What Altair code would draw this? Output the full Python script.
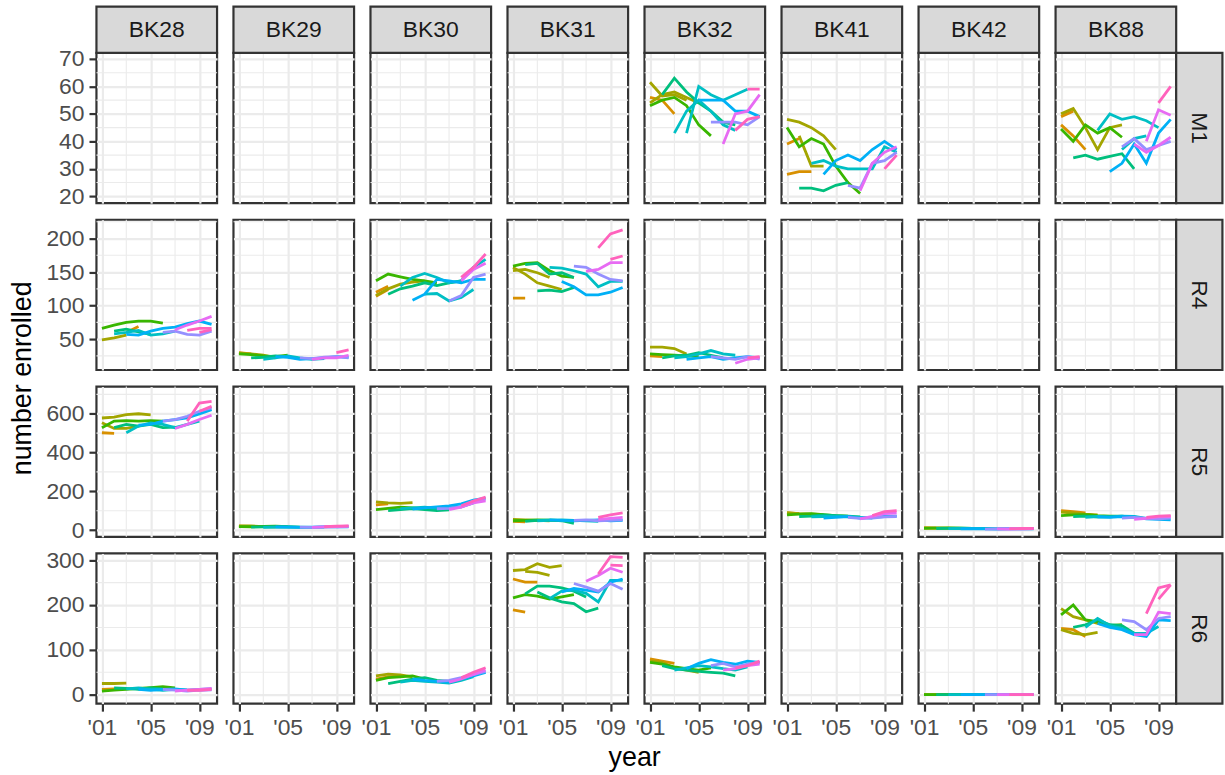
import altair as alt
import pandas as pd

# ---------------- data ----------------
SCHOOLS = ["BK28", "BK29", "BK30", "BK31", "BK32", "BK41", "BK42", "BK88"]
ROWS = ["M1", "R4", "R5", "R6"]
COHORTS = ["2000", "2001", "2002", "2003", "2004", "2005", "2006", "2007", "2008", "2009"]
COHORT_COLORS = ["#F8766D", "#D89000", "#A3A500", "#39B600", "#00BF7D",
                 "#00BFC4", "#00B0F6", "#9590FF", "#E76BF3", "#FF62BC"]

X_DOMAIN = [2000.55, 2010.45]
X_TICKS = [2001, 2005, 2009]
X_MINOR = [2003, 2007]
Y_DOMAIN = {"M1": [17.5, 72.2], "R4": [4, 228], "R5": [-35, 740], "R6": [-20, 315]}
Y_TICKS = {"M1": [20, 30, 40, 50, 60, 70], "R4": [50, 100, 150, 200],
           "R5": [0, 200, 400, 600], "R6": [0, 100, 200, 300]}
Y_MINOR = {"M1": [25, 35, 45, 55, 65], "R4": [25, 75, 125, 175, 225],
           "R5": [100, 300, 500, 700], "R6": [50, 150, 250]}

# each line: (cohort index, first year, values)
BK32_M1 = [
    (1, 2001, [56, 55, 50]),
    (2, 2001, [61.5, 56.5, 57, 55]),
    (2, 2001, [54, 57, 58, 56, 54]),
    (3, 2001, [53, 55, 56, 53, 46, 42]),
    (4, 2002, [57, 63, 58, 54, 51, 47, 46]),
    (5, 2003, [43, 51, 55, 51, 46, 44]),
    (5, 2004, [43, 60, 57, 55, 57, 59]),
    (6, 2005, [55, 55, 55, 51, 51, 49]),
    (7, 2006, [47, 47, 47, 46, 49]),
    (8, 2007, [39, 50, 51, 57]),
    (9, 2008, [44, 48, 49]),
    (9, 2009, [59, 59]),
]
BK41_M1 = [
    (1, 2001, [39, 41]),
    (1, 2001, [28, 29, 29]),
    (2, 2001, [48, 47, 45, 42, 37]),
    (2, 2002, [42, 31, 31]),
    (3, 2001, [45, 38, 41, 39, 31, 25, 21]),
    (4, 2002, [23, 23, 22, 24, 25]),
    (5, 2003, [32, 33, 31, 30, 30, 30, 38, 36]),
    (6, 2004, [28, 33, 35, 33, 37, 40, 37]),
    (7, 2006, [24, 23, 32, 33, 36]),
    (8, 2007, [22, 32, 36, 38]),
    (9, 2009, [30, 35]),
]
BK88_M1 = [
    (1, 2001, [49, 51]),
    (1, 2001, [46, 42, 37]),
    (2, 2001, [50, 52, 45, 37, 45, 46]),
    (3, 2001, [44.5, 40, 46, 43, 45, 41.5]),
    (4, 2002, [34, 35, 33.5, 34.5, 35.5, 30]),
    (5, 2004, [44, 50, 48, 49, 47.5, 45]),
    (5, 2006, [37, 41, 42]),
    (6, 2005, [29, 32, 39, 32, 43, 48]),
    (7, 2006, [38, 41, 37, 38.5, 40]),
    (8, 2007, [39, 36, 38.5, 41.5]),
    (8, 2008, [40, 51.5, 49.5]),
    (9, 2009, [54, 60]),
]
BK28_R4 = [
    (1, 2003, [60, 69]),
    (2, 2001, [49, 52, 56]),
    (3, 2001, [66, 71, 75, 77, 77, 74]),
    (4, 2002, [62, 65, 61, 57]),
    (5, 2002, [58, 60, 63, 56, 58, 62]),
    (6, 2003, [57, 56, 62, 66, 68, 73, 77, 72]),
    (7, 2006, [60, 62, 57, 56, 62]),
    (8, 2007, [64, 71, 77, 84]),
    (9, 2008, [63, 66, 66]),
    (9, 2009, [60, 64]),
]
BK29_R4 = [
    (1, 2001, [30, 28]),
    (2, 2001, [29, 28, 26, 22]),
    (3, 2001, [28, 27, 25, 24, 26]),
    (4, 2002, [22, 23, 25, 24, 21]),
    (5, 2003, [20, 22, 25, 22, 20, 21]),
    (6, 2004, [24, 23, 20, 21, 22, 24, 23]),
    (7, 2006, [22, 21, 23, 24, 22]),
    (8, 2007, [20, 22, 22, 26]),
    (9, 2009, [30, 34]),
]
BK30_R4 = [
    (1, 2001, [120, 129]),
    (1, 2001, [114, 124]),
    (2, 2001, [115, 125, 132, 135, 137]),
    (3, 2001, [137, 147, 143, 139, 137, 134]),
    (4, 2002, [117, 125, 129, 134, 130, 134, 137]),
    (5, 2003, [129, 142, 148, 142, 134, 137, 157, 169]),
    (5, 2005, [117, 118, 107, 112, 124]),
    (6, 2004, [108, 117, 139, 137, 134, 139, 139]),
    (7, 2007, [107, 115, 142, 147]),
    (8, 2008, [137, 154, 163]),
    (9, 2008, [142, 157, 177]),
]
BK31_R4 = [
    (1, 2001, [111, 111]),
    (2, 2001, [152, 154, 149, 142]),
    (2, 2001, [157, 147, 134, 129, 124]),
    (3, 2001, [159, 163, 164, 152, 144, 142]),
    (4, 2002, [161, 163, 147, 149, 142]),
    (4, 2003, [122, 123, 121, 127]),
    (5, 2004, [157, 156, 152, 147, 128, 136, 136]),
    (6, 2005, [136, 128, 116, 116, 120, 127]),
    (7, 2006, [159, 157, 147, 139, 137]),
    (8, 2007, [151, 154, 164, 164]),
    (9, 2008, [186, 207, 213]),
    (9, 2009, [169, 174]),
]
BK32_R4 = [
    (1, 2001, [25, 24]),
    (2, 2001, [38, 38, 36, 28]),
    (3, 2001, [28, 27, 26, 25, 24]),
    (4, 2002, [22, 25, 26, 30, 26, 22]),
    (5, 2003, [22, 24, 28, 33, 28, 26]),
    (6, 2004, [20, 22, 24, 20, 22, 24, 22]),
    (7, 2006, [24, 22, 20, 24, 20]),
    (8, 2008, [14, 20, 22]),
    (9, 2009, [22, 24]),
]
BK28_R5 = [
    (1, 2001, [502, 499]),
    (2, 2001, [553, 524, 524, 536]),
    (2, 2001, [578, 582, 596, 600, 594]),
    (3, 2001, [528, 562, 565, 562, 565, 562]),
    (4, 2002, [528, 545, 536, 545, 528, 531]),
    (5, 2003, [502, 536, 553, 545, 528, 545, 562]),
    (6, 2004, [541, 545, 562, 570, 579, 599, 621]),
    (7, 2006, [562, 570, 587, 613, 630]),
    (8, 2007, [524, 545, 570, 592]),
    (9, 2008, [562, 655, 664]),
    (9, 2009, [613, 638]),
]
BK29_R5 = [
    (1, 2001, [20, 19]),
    (2, 2001, [22, 21, 18, 16]),
    (3, 2001, [18, 17, 19, 20, 18]),
    (4, 2002, [15, 16, 18, 17, 15]),
    (5, 2003, [14, 15, 16, 15, 14, 15]),
    (6, 2004, [16, 15, 14, 15, 16, 17, 16]),
    (7, 2006, [15, 14, 16, 17, 18]),
    (8, 2007, [14, 16, 18, 20]),
    (9, 2008, [17, 20, 22]),
]
BK30_R5 = [
    (1, 2001, [130, 135]),
    (2, 2001, [145, 140, 138, 142]),
    (3, 2001, [105, 112, 118, 115, 110, 108]),
    (4, 2002, [100, 105, 110, 105, 100, 104]),
    (5, 2003, [110, 115, 118, 112, 115, 120, 140]),
    (6, 2004, [108, 115, 120, 125, 135, 155, 165]),
    (7, 2006, [110, 112, 120, 150, 160]),
    (8, 2007, [105, 118, 140, 150]),
    (9, 2008, [125, 150, 170]),
]
BK31_R5 = [
    (1, 2001, [45, 42]),
    (2, 2001, [55, 52, 50, 48]),
    (3, 2001, [48, 50, 52, 50, 49]),
    (4, 2002, [45, 50, 52, 48, 35]),
    (5, 2003, [48, 50, 52, 50, 48, 45]),
    (6, 2004, [52, 50, 48, 50, 52, 48, 50]),
    (7, 2006, [50, 52, 48, 50, 52]),
    (8, 2008, [55, 60, 65]),
    (9, 2008, [65, 78, 88]),
]
BK41_R5 = [
    (1, 2001, [88, 85]),
    (2, 2001, [90, 85, 82, 80]),
    (3, 2001, [78, 82, 85, 80, 75, 72]),
    (4, 2002, [70, 72, 78, 75, 72, 68]),
    (5, 2003, [68, 70, 72, 68, 65, 62]),
    (6, 2004, [62, 65, 70, 62, 65, 70, 72]),
    (7, 2006, [65, 60, 62, 68, 70]),
    (8, 2007, [58, 70, 85, 88]),
    (9, 2008, [75, 95, 100]),
]
BK42_R5 = [
    (1, 2001, [10, 10]),
    (2, 2001, [12, 11, 10, 9]),
    (3, 2001, [9, 10, 11, 10, 9]),
    (4, 2002, [8, 9, 10, 9, 8]),
    (5, 2003, [7, 8, 9, 8, 7, 7]),
    (6, 2004, [6, 7, 6, 5, 6, 7, 6]),
    (7, 2006, [5, 6, 7, 6, 7]),
    (8, 2007, [6, 5, 6, 8]),
    (9, 2008, [7, 8, 9]),
]
BK88_R5 = [
    (1, 2001, [100, 95, 88]),
    (2, 2001, [92, 88, 82, 78]),
    (3, 2001, [75, 78, 80, 75, 72, 70]),
    (4, 2002, [70, 72, 68, 70, 72, 65]),
    (5, 2003, [65, 70, 68, 72, 70, 60]),
    (6, 2004, [68, 65, 70, 68, 58, 55, 52]),
    (7, 2006, [62, 65, 60, 58, 62]),
    (8, 2007, [55, 60, 68, 70]),
    (9, 2008, [65, 72, 75]),
]
BK28_R6 = [
    (1, 2001, [12, 13, 14]),
    (2, 2001, [25, 25, 26]),
    (3, 2001, [8, 10, 12, 14, 16, 18, 15]),
    (4, 2002, [15, 14, 12, 15, 13]),
    (5, 2003, [13, 15, 12, 10, 12, 11]),
    (6, 2004, [12, 10, 12, 13, 10, 12, 13]),
    (7, 2006, [12, 10, 8, 10, 11]),
    (8, 2007, [8, 10, 12, 14]),
    (9, 2008, [10, 10, 12]),
]
BK30_R6 = [
    (1, 2001, [35, 40, 42]),
    (2, 2001, [42, 46, 44, 40]),
    (3, 2001, [32, 38, 40, 42, 35]),
    (4, 2002, [25, 30, 35, 38, 32, 30]),
    (5, 2003, [28, 32, 30, 28, 26, 32, 40]),
    (6, 2004, [35, 32, 30, 28, 35, 42, 50]),
    (7, 2006, [30, 32, 38, 45, 52]),
    (8, 2007, [28, 35, 45, 55]),
    (9, 2008, [38, 50, 60]),
]
BK31_R6 = [
    (1, 2001, [189, 184]),
    (1, 2001, [258, 251, 251]),
    (2, 2001, [277, 279, 292, 284, 288]),
    (2, 2002, [275, 273, 266]),
    (3, 2001, [216, 223, 220, 213, 218, 223]),
    (4, 2002, [225, 242, 242, 238, 231, 218]),
    (4, 2003, [229, 216, 207, 203, 185, 193]),
    (5, 2004, [214, 231, 233, 226, 207, 255, 255]),
    (6, 2005, [229, 237, 233, 229, 251, 258]),
    (7, 2006, [248, 240, 231, 248, 235]),
    (8, 2007, [253, 266, 282, 273]),
    (9, 2008, [269, 308, 306]),
    (9, 2009, [289, 288]),
]
BK32_R6 = [
    (1, 2001, [80, 75, 70]),
    (2, 2001, [75, 72, 60, 55, 50]),
    (3, 2001, [72, 68, 62, 58, 55, 60]),
    (4, 2002, [65, 58, 55, 52, 50, 48, 42]),
    (5, 2003, [55, 60, 65, 62, 58, 55, 62]),
    (6, 2004, [58, 70, 78, 72, 68, 75, 72]),
    (7, 2006, [65, 70, 62, 68, 72]),
    (8, 2007, [55, 58, 65, 68]),
    (9, 2008, [60, 65, 75]),
]
BK42_R6 = [
    (1, 2001, [0, 0, 0]),
    (2, 2001, [0, 0, 0, 0]),
    (3, 2001, [0, 0, 0, 0, 0, 0]),
    (4, 2002, [0, 0, 0, 0, 0, 0]),
    (5, 2003, [0, 0, 0, 0, 0, 0, 0]),
    (6, 2004, [0, 0, 0, 0, 0, 0, 0]),
    (7, 2006, [0, 0, 0, 0, 0]),
    (8, 2007, [0, 0, 0, 0]),
    (9, 2008, [0, 0, 0]),
]
BK88_R6 = [
    (1, 2001, [148, 145, 130]),
    (2, 2001, [145, 137, 134, 139]),
    (2, 2001, [192, 174, 167, 159, 154]),
    (3, 2001, [178, 200, 167, 163, 154, 156]),
    (4, 2002, [150, 156, 167, 156, 154, 137]),
    (5, 2003, [150, 170, 154, 148, 137, 137, 152]),
    (6, 2004, [159, 150, 145, 134, 130, 167, 165]),
    (7, 2006, [167, 163, 145, 170, 174]),
    (8, 2007, [134, 134, 184, 181]),
    (9, 2008, [181, 238, 245]),
    (9, 2009, [213, 245]),
]

PANELS = {
    ("BK32", "M1"): BK32_M1, ("BK41", "M1"): BK41_M1, ("BK88", "M1"): BK88_M1,
    ("BK28", "R4"): BK28_R4, ("BK29", "R4"): BK29_R4, ("BK30", "R4"): BK30_R4,
    ("BK31", "R4"): BK31_R4, ("BK32", "R4"): BK32_R4,
    ("BK28", "R5"): BK28_R5, ("BK29", "R5"): BK29_R5, ("BK30", "R5"): BK30_R5,
    ("BK31", "R5"): BK31_R5, ("BK41", "R5"): BK41_R5, ("BK42", "R5"): BK42_R5,
    ("BK88", "R5"): BK88_R5,
    ("BK28", "R6"): BK28_R6, ("BK30", "R6"): BK30_R6, ("BK31", "R6"): BK31_R6,
    ("BK32", "R6"): BK32_R6, ("BK42", "R6"): BK42_R6, ("BK88", "R6"): BK88_R6,
}

# ---------------- style ----------------
PW, PH, SP, STRIP = 121.3, 151.1, 15.8, 46.5
FONT = "Liberation Sans"
GRID = "#EBEBEB"
DARK = "#333333"
LW = 2.2
LINE_W = 2.8
FS = 23


def panel_df(school, row):
    recs = []
    for k, (coh, start, vals) in enumerate(PANELS.get((school, row), [])):
        for j, v in enumerate(vals):
            recs.append({"school": school, "row": row, "line": f"{coh}_{k:02d}",
                         "cohort": COHORTS[coh], "year": start + j, "value": v})
    return pd.DataFrame(recs)


def cell(school, row, ri, ci):
    bottom = ri == len(ROWS) - 1
    left = ci == 0
    xkw = dict(values=X_TICKS, grid=True, domain=False, labels=bottom, ticks=bottom,
               labelExpr="\"'\" + slice(format(datum.value, 'd'), 2)",
               labelFlush=False, labelOverlap=False, title=None)
    if bottom and left:
        xkw.update(title="year", titleX=540.8, titleY=62, titleBaseline="alphabetic",
                   titleAlign="center", titleAnchor="start")
    ykw = dict(values=Y_TICKS[row], grid=True, domain=False, labels=left, ticks=left,
               labelFlush=False, labelOverlap=False, title=None)
    if left and row == "R4":
        ykw.update(title="number enrolled", titleX=-66, titleY=159, titleAngle=270,
                   titleBaseline="alphabetic", titleAlign="center", titleAnchor="start")
    X = alt.X("year:Q", scale=alt.Scale(domain=X_DOMAIN, nice=False, zero=False),
              axis=alt.Axis(**xkw))
    Y = alt.Y("value:Q", scale=alt.Scale(domain=Y_DOMAIN[row], nice=False, zero=False),
              axis=alt.Axis(**ykw))

    layers = [
        alt.Chart(pd.DataFrame({"year": X_MINOR})).mark_rule(color=GRID, strokeWidth=1.1).encode(x=X),
        alt.Chart(pd.DataFrame({"value": Y_MINOR[row]})).mark_rule(color=GRID, strokeWidth=1.1).encode(y=Y),
    ]
    df = panel_df(school, row)
    if len(df):
        layers.append(
            alt.Chart(df).mark_line(strokeWidth=LINE_W, clip=True).encode(
                x=X, y=Y,
                color=alt.Color("cohort:N", scale=alt.Scale(domain=COHORTS, range=COHORT_COLORS),
                                legend=None),
                detail="line:N",
            )
        )
    if ri == 0:
        sd = pd.DataFrame({"school": [school]})
        layers.append(alt.Chart(sd).mark_rect(fill="#D9D9D9", stroke=DARK, strokeWidth=LW).encode(
            x=alt.value(0), x2=alt.value(PW), y=alt.value(-STRIP), y2=alt.value(0)))
        layers.append(alt.Chart(sd).mark_text(font=FONT, fontSize=FS, color="#1A1A1A",
                                              baseline="middle", align="center").encode(
            x=alt.value(PW / 2), y=alt.value(-STRIP / 2), text="school:N"))
    if ci == len(SCHOOLS) - 1:
        rd = pd.DataFrame({"row": [row]})
        layers.append(alt.Chart(rd).mark_rect(fill="#D9D9D9", stroke=DARK, strokeWidth=LW).encode(
            x=alt.value(PW), x2=alt.value(PW + STRIP), y=alt.value(0), y2=alt.value(PH)))
        layers.append(alt.Chart(rd).mark_text(font=FONT, fontSize=FS, color="#1A1A1A",
                                              baseline="middle", align="center", angle=90).encode(
            x=alt.value(PW + STRIP / 2), y=alt.value(PH / 2), text="row:N"))
    return alt.layer(*layers).properties(width=PW, height=PH)


cells = [cell(s, r, ri, ci) for ri, r in enumerate(ROWS) for ci, s in enumerate(SCHOOLS)]

chart = alt.concat(*cells, columns=len(SCHOOLS), spacing=SP, bounds="flush").properties(
    padding={"left": 7, "top": 2, "right": 0, "bottom": 0},
    background="white",
).configure_view(
    stroke=DARK, strokeWidth=LW, fill="white"
).configure_axis(
    labelFont=FONT, labelFontSize=FS, labelColor="#4D4D4D",
    tickColor=DARK, tickWidth=LW, tickSize=7.5, labelPadding=5,
    gridColor=GRID, gridWidth=LW,
    titleFont=FONT, titleFontSize=27, titleColor="black", titleFontWeight="normal",
)

chart.save("out.html", embed_options={"renderer": "svg", "actions": False})
